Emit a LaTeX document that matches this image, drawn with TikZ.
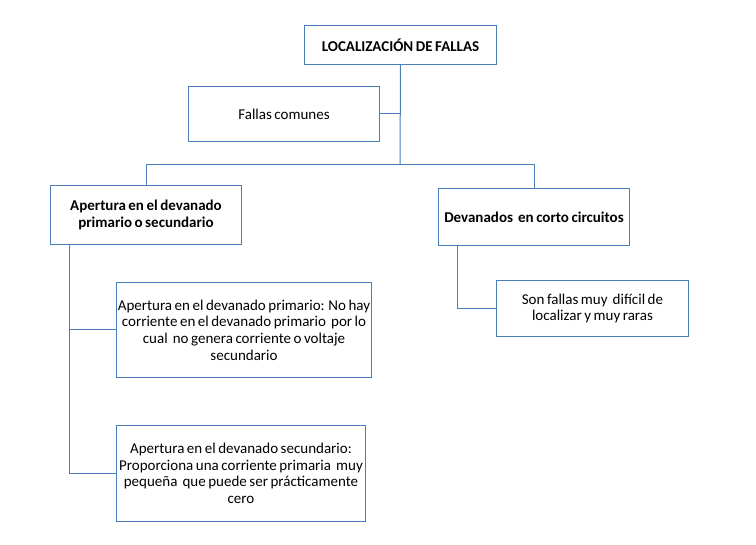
\documentclass[tikz,border=0pt]{standalone}
\usepackage{fontspec}
\setmainfont{Carlito}[WordSpace=0.75]
\definecolor{lineblue}{RGB}{74,126,187}
\begin{document}
\begin{tikzpicture}[x=1pt,y=-1pt,
  box/.style={draw=lineblue,line width=1pt,fill=white,anchor=north west,inner sep=1pt,align=center,
    font=\fontsize{15}{16.6}\selectfont},
  boldbox/.style={box,font=\fontsize{15}{17}\selectfont\bfseries},
  conn/.style={draw=lineblue,line width=1pt}]
\useasboundingbox (0,0) rectangle (756,545);
\node[boldbox,minimum width=192pt,minimum height=39pt] (title) at (304,25) {LOCALIZACIÓN DE FALLAS};
\node[box,minimum width=191pt,minimum height=55pt] (comunes) at (188,86) {Fallas comunes};
\node[boldbox,minimum width=191pt,minimum height=59pt] (abierto) at (50,185) {Apertura en el devanado\\primario o secundario};
\node[boldbox,minimum width=191pt,minimum height=57pt] (corto) at (438,188) {Devanados\ \ en corto circuitos};
\node[box,minimum width=255pt,minimum height=95pt] (prim) at (116,282) {Apertura en el devanado primario: No hay\\corriente en el devanado primario\ \ por lo\\cual\ \ no genera corriente o voltaje\\secundario};
\node[box,minimum width=249pt,minimum height=96pt] (sec) at (116,425) {Apertura en el devanado secundario:\\Proporciona una corriente primaria\ \ muy\\pequeña\ \ que puede ser prácticamente\\cero};
\node[box,minimum width=192pt,minimum height=56pt] (raras) at (496,280) {Son fallas muy\ \ difícil de\\localizar y muy raras};
\coordinate (j) at (400,165);
\draw[conn] (title.south) -- (j);
\draw[conn] (comunes.east) -- (comunes.east -| title.south);
\draw[conn] (j) -| (abierto.north);
\draw[conn] (j) -| (corto.north);
\draw[conn] ([xshift=19pt]abierto.south west) |- (prim.west);
\draw[conn] ([xshift=19pt]abierto.south west) |- (sec.west);
\draw[conn] ([xshift=19pt]corto.south west) |- (raras.west);
\end{tikzpicture}
\end{document}
